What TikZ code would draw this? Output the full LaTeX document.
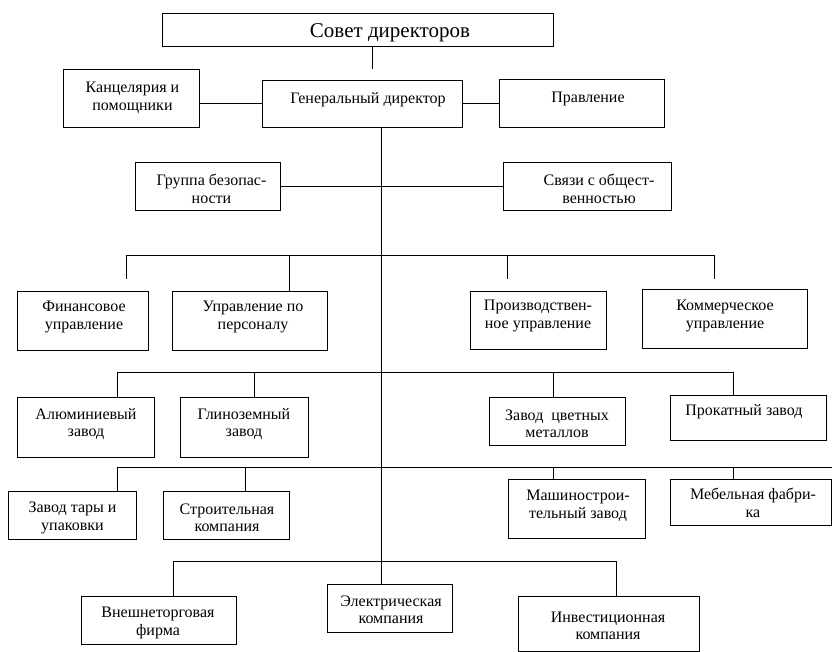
\documentclass[tikz,border=0pt]{standalone}
\usepackage{fontspec}
\setmainfont{Liberation Serif}
\tikzset{
  box/.style 2 args={draw, line width=0.9pt, minimum width=#1, minimum height=#2, inner sep=0pt},
  txt/.style={align=center, inner sep=0pt, font=\fontsize{16}{17.5}\selectfont},
  ln/.style={line width=0.9pt},
}
\begin{document}
\begin{tikzpicture}[x=1pt,y=-1pt]
\useasboundingbox[fill=white] (0,0) rectangle (832,651);
% boxes
\node[box={391pt}{33pt}] (sovet)  at (357.5,29.5) {};
\node[box={136pt}{58pt}] (kanc)   at (131,98) {};
\node[box={200pt}{47pt}] (gen)    at (362,103.5) {};
\node[box={165pt}{48pt}] (pravl)  at (581.5,103) {};
\node[box={145pt}{48pt}] (gruppa) at (207.5,186) {};
\node[box={168pt}{48pt}] (svyazi) at (587,186) {};
\node[box={131pt}{59pt}] (fin)    at (82.5,320.5) {};
\node[box={155pt}{59pt}] (upr)    at (249.5,320.5) {};
\node[box={136pt}{58pt}] (proizv) at (538,320) {};
\node[box={165pt}{59pt}] (komm)   at (724.5,318.5) {};
\node[box={137pt}{60pt}] (alum)   at (85.5,427) {};
\node[box={128pt}{60pt}] (glin)   at (244,427) {};
\node[box={136pt}{48pt}] (zcvet)  at (557,421) {};
\node[box={156pt}{45pt}] (prokat) at (748,417.5) {};
\node[box={128pt}{48pt}] (tara)   at (72,515) {};
\node[box={126pt}{48pt}] (stroit) at (226,515) {};
\node[box={137pt}{59pt}] (mash)   at (576.5,508.5) {};
\node[box={161pt}{46pt}] (mebel)  at (750.5,502) {};
\node[box={155pt}{48pt}] (vnesh)  at (158.5,620) {};
\node[box={125pt}{48pt}] (elektr) at (389.5,608) {};
\node[box={181pt}{55pt}] (invest) at (608.5,623.5) {};
% texts
\node[txt] (sovett)  at (390,33) {\fontsize{21}{24}\selectfont Совет директоров};
\node[txt] (kanct)   at (132.5,98) {Канцелярия и\\помощники};
\node[txt] (gent)    at (368,99.5) {Генеральный директор};
\node[txt] (pravlt)  at (588,98.5) {Правление};
\node[txt] (gruppat) at (211.5,189) {Группа безопас-\\ности};
\node[txt] (svyazit) at (599,189) {Связи с общест-\\венностью};
\node[txt] (fint)    at (84,317) {Финансовое\\управление};
\node[txt] (uprt)    at (253,317) {Управление по\\персоналу};
\node[txt] (proizvt) at (538,316) {Производствен-\\ное управление};
\node[txt] (kommt)   at (725,316) {Коммерческое\\управление};
\node[txt] (alumt)   at (86,424) {Алюминиевый\\завод};
\node[txt] (glint)   at (244,424) {Глиноземный\\завод};
\node[txt] (zcvett)  at (557,424) {Завод~~цветных\\металлов};
\node[txt] (prokatt) at (744,412) {Прокатный завод};
\node[txt] (tarat)   at (72.5,518) {Завод тары и\\упаковки};
\node[txt] (stroitt) at (227,518) {Строительная\\компания};
\node[txt] (masht)   at (578,506) {Машинострои-\\тельный завод};
\node[txt] (mebelt)  at (753,503) {Мебельная фабри-\\ка};
\node[txt] (vnesht)  at (158,623) {Внешнеторговая\\фирма};
\node[txt] (elektrt) at (391,610) {Электрическая\\компания};
\node[txt] (investt) at (608,626) {Инвестиционная\\компания};
% coordinates
\coordinate (sovend) at (372,69);
\coordinate (cx) at (381,300);
\coordinate (b1l) at (126,255);
\coordinate (b1r) at (714,255);
\coordinate (j1u) at (289,255);
\coordinate (j1p) at (507,255);
\coordinate (finend) at (126,279);
\coordinate (proizvend) at (507,279);
\coordinate (kommend) at (714,279);
\coordinate (b2l) at (117,372);
\coordinate (b2r) at (733,372);
\coordinate (j2g) at (254,372);
\coordinate (j2z) at (553,372);
\coordinate (b3l) at (117,467);
\coordinate (b3r) at (832,467);
\coordinate (j3s) at (245,467);
\coordinate (j3m) at (553,467);
\coordinate (j3f) at (733,467);
\coordinate (b4l) at (173,561);
\coordinate (b4r) at (616,561);
% connectors
\draw[ln] (sovet.south -| sovend) -- (sovend);
\draw[ln] (gen.west) -- (gen.west -| kanc.east);
\draw[ln] (gen.east) -- (gen.east -| pravl.west);
\draw[ln] (cx |- gen.south) -- (cx |- elektr.north);
\draw[ln] (gruppa.east) -- (svyazi.west);
\draw[ln] (b1l) -- (b1r);
\draw[ln] (b1l) -- (finend);
\draw[ln] (j1u) -- (j1u |- upr.north);
\draw[ln] (j1p) -- (proizvend);
\draw[ln] (b1r) -- (kommend);
\draw[ln] (b2l) -- (b2r);
\draw[ln] (b2l) -- (b2l |- alum.north);
\draw[ln] (j2g) -- (j2g |- glin.north);
\draw[ln] (j2z) -- (j2z |- zcvet.north);
\draw[ln] (b2r) -- (b2r |- prokat.north);
\draw[ln] (b3l) -- (b3r);
\draw[ln] (b3l) -- (b3l |- tara.north);
\draw[ln] (j3s) -- (j3s |- stroit.north);
\draw[ln] (j3m) -- (j3m |- mash.north);
\draw[ln] (j3f) -- (j3f |- mebel.north);
\draw[ln] (b4l) -- (b4r);
\draw[ln] (b4l) -- (b4l |- vnesh.north);
\draw[ln] (b4r) -- (b4r |- invest.north);
\end{tikzpicture}
\end{document}
